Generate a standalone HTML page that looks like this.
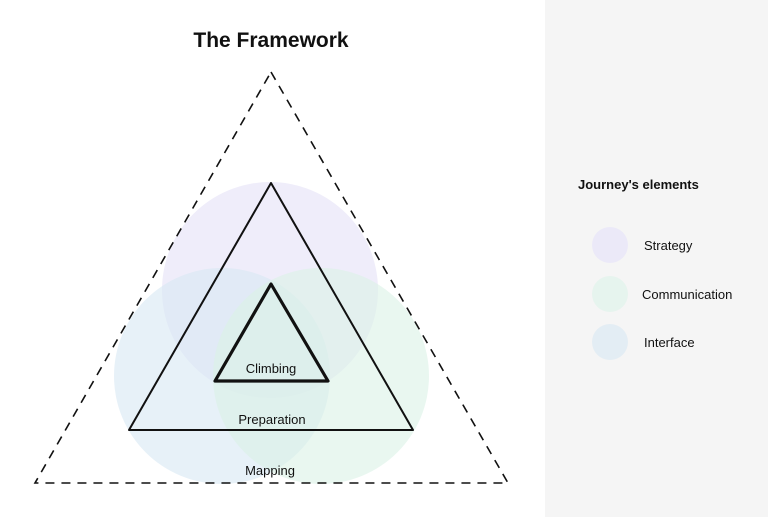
<!DOCTYPE html>
<html><head><style>
html,body{margin:0;padding:0;width:768px;height:517px;overflow:hidden;background:#fff}
svg{display:block}
text{font-family:"Liberation Sans",sans-serif;fill:#111}
</style></head><body>
<svg width="768" height="517" viewBox="0 0 768 517">
<rect x="0" y="0" width="768" height="517" fill="#fff"/>
<rect x="545" y="0" width="223" height="517" fill="#f5f5f5"/>
<text x="271" y="47" text-anchor="middle" font-size="21" font-weight="bold">The Framework</text>
<circle cx="270" cy="290" r="108" fill="#e4e1f7" fill-opacity="0.6"/>
<circle cx="222" cy="376" r="108" fill="#d7e8f3" fill-opacity="0.6"/>
<circle cx="321" cy="376" r="108" fill="#daf2e6" fill-opacity="0.6"/>
<polygon points="271,72 508,483 35,483" fill="none" stroke="#111" stroke-width="1.6" stroke-dasharray="9,7"/>
<polygon points="271,183 413,430 129,430" fill="none" stroke="#111" stroke-width="2" stroke-linejoin="round"/>
<polygon points="271,284 328,381 215,381" fill="none" stroke="#111" stroke-width="3.2" stroke-linejoin="round"/>
<text x="271" y="373" text-anchor="middle" font-size="13">Climbing</text>
<text x="272" y="424" text-anchor="middle" font-size="13">Preparation</text>
<text x="270" y="475" text-anchor="middle" font-size="13">Mapping</text>
<text x="578" y="189" font-size="13" font-weight="bold">Journey's elements</text>
<circle cx="610" cy="245" r="18" fill="#ebe9f8"/>
<circle cx="610" cy="294" r="18" fill="#e6f4ee"/>
<circle cx="610" cy="342" r="18" fill="#e3edf4"/>
<text x="644" y="250" font-size="13">Strategy</text>
<text x="642" y="299" font-size="13">Communication</text>
<text x="644" y="347" font-size="13">Interface</text>
</svg>
</body></html>
